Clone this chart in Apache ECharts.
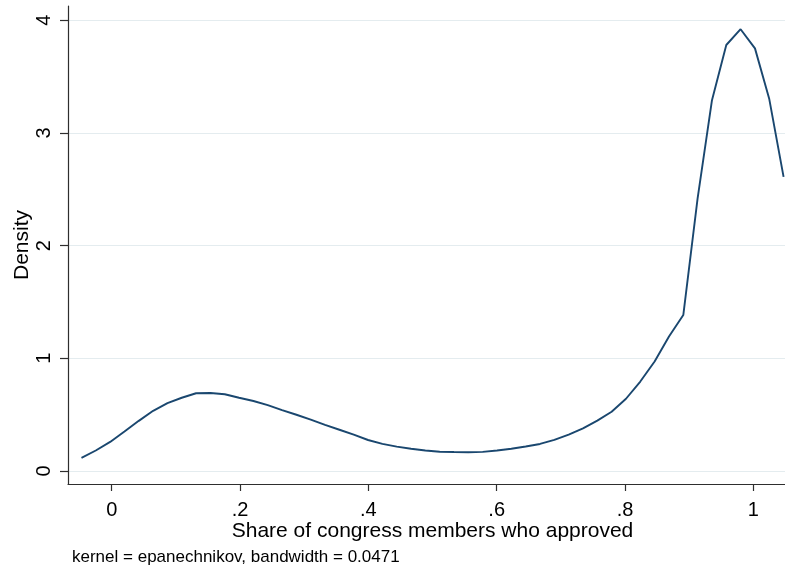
<!DOCTYPE html>
<html>
<head>
<meta charset="utf-8">
<script src="https://cdn.jsdelivr.net/npm/echarts@6/dist/echarts.min.js"></script>
<style>
  html, body { margin: 0; padding: 0; background: #ffffff; }
  #chart { width: 785px; height: 568px; }
</style>
</head>
<body>
<div id="chart"></div>
<script>
// Kernel density estimate of the approval share (50 evaluation points)
const gridPoints = [
  -0.0471, -0.0248, -0.0024, 0.0199, 0.0422, 0.0646, 0.0869, 0.1092, 0.1315, 0.1539,
  0.1762, 0.1985, 0.2209, 0.2432, 0.2655, 0.2879, 0.3102, 0.3325, 0.3549, 0.3772,
  0.3995, 0.4219, 0.4442, 0.4665, 0.4888, 0.5112, 0.5335, 0.5558, 0.5782, 0.6005,
  0.6228, 0.6452, 0.6675, 0.6898, 0.7122, 0.7345, 0.7568, 0.7791, 0.8015, 0.8238,
  0.8461, 0.8685, 0.8908, 0.9131, 0.9355, 0.9578, 0.9801, 1.0025, 1.0248, 1.0471
];
const density = [
  0.117, 0.182, 0.258, 0.350, 0.445, 0.534, 0.603, 0.650, 0.690, 0.692,
  0.681, 0.650, 0.621, 0.585, 0.541, 0.499, 0.456, 0.409, 0.366, 0.322,
  0.275, 0.241, 0.216, 0.197, 0.182, 0.171, 0.168, 0.166, 0.170, 0.182,
  0.197, 0.217, 0.240, 0.276, 0.323, 0.378, 0.447, 0.526, 0.641, 0.794,
  0.972, 1.194, 1.384, 2.42, 3.29, 3.78, 3.92, 3.75, 3.30, 2.61
];

// Axis ticks and their printed labels
const xTicks = [0, 0.2, 0.4, 0.6, 0.8, 1];
const xTickLabels = ['0', '.2', '.4', '.6', '.8', '1'];
const yTicks = [0, 1, 2, 3, 4];
const yTickLabels = ['0', '1', '2', '3', '4'];

const xTitle = 'Share of congress members who approved';
const yTitle = 'Density';
const noteText = 'kernel = epanechnikov, bandwidth = 0.0471';

const FONT = '"Liberation Sans", Arial, sans-serif';
const NAVY = '#1a476f';
const AXIS = '#2e2e2e';
const GRID = '#e4ecef';

const seriesData = gridPoints.map((x, i) => [x, density[i]]);

const chart = echarts.init(document.getElementById('chart'), null, { renderer: 'canvas' });

chart.setOption({
  animation: false,
  backgroundColor: '#ffffff',
  textStyle: { fontFamily: FONT, color: '#000' },
  title: {
    text: noteText,
    left: 72,
    top: 549,
    padding: 0,
    textStyle: { fontFamily: FONT, fontSize: 17, fontWeight: 'normal', color: '#000' }
  },
  grid: { left: 68, right: 0, top: 6, bottom: 84, containLabel: false, outerBoundsMode: 'none' },
  xAxis: {
    type: 'value',
    min: -0.0681,
    max: 1.0493,
    name: xTitle,
    nameLocation: 'middle',
    nameGap: 37,
    nameMoveOverlap: false,
    nameTextStyle: { fontFamily: FONT, fontSize: 21, color: '#000', padding: [0, 0, 0, 12] },
    axisLine: { show: true, onZero: false, lineStyle: { color: AXIS, width: 1.2 } },
    axisTick: { show: true, inside: false, length: 7, customValues: xTicks, lineStyle: { color: AXIS, width: 1.2 } },
    axisLabel: {
      customValues: xTicks,
      margin: 16,
      fontFamily: FONT,
      fontSize: 20,
      color: '#000',
      formatter: (v) => xTickLabels[xTicks.findIndex(t => Math.abs(t - v) < 1e-9)]
    },
    splitLine: { show: false }
  },
  yAxis: {
    type: 'value',
    min: -0.1153,
    max: 4.126,
    name: yTitle,
    nameLocation: 'middle',
    nameGap: 35,
    nameMoveOverlap: false,
    nameRotate: 90,
    nameTextStyle: { fontFamily: FONT, fontSize: 21, color: '#000' },
    axisLine: { show: true, onZero: false, lineStyle: { color: AXIS, width: 1.2 } },
    axisTick: { show: true, inside: false, length: 8, customValues: yTicks, lineStyle: { color: AXIS, width: 1.2 } },
    axisLabel: {
      customValues: yTicks,
      rotate: 90,
      margin: 14,
      fontFamily: FONT,
      fontSize: 20,
      color: '#000',
      formatter: (v) => yTickLabels[yTicks.findIndex(t => Math.abs(t - v) < 1e-9)]
    },
    splitLine: { show: true, lineStyle: { color: GRID, width: 1.2 } }
  },
  series: [{
    type: 'line',
    data: seriesData,
    smooth: false,
    showSymbol: false,
    symbol: 'none',
    lineStyle: { color: NAVY, width: 1.9 },
    z: 5
  }]
});
</script>
</body>
</html>
